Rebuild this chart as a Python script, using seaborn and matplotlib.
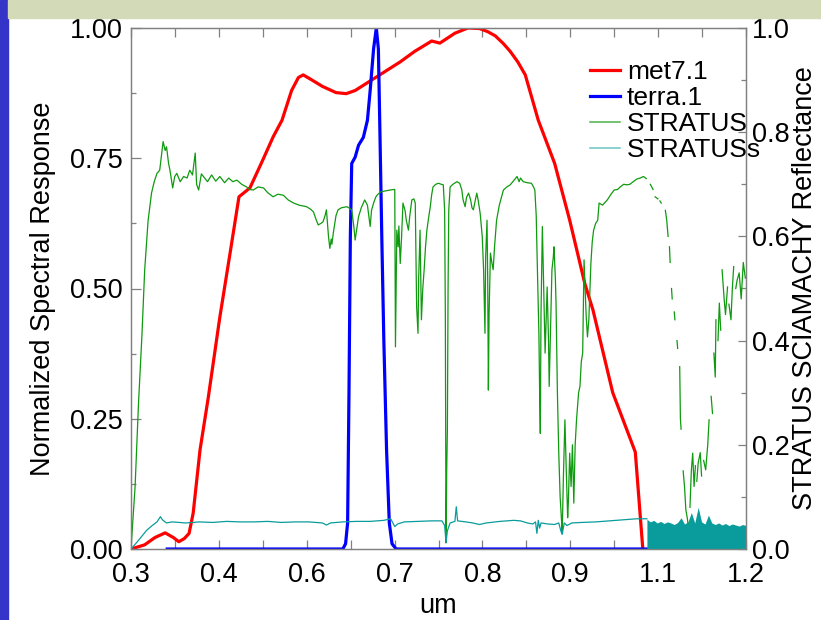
import numpy as np
import matplotlib
matplotlib.use("Agg")
import matplotlib.pyplot as plt
import seaborn as sns
from matplotlib.lines import Line2D
from matplotlib.patches import Rectangle
from matplotlib.ticker import FixedLocator, MultipleLocator

plt.rcParams["font.family"] = ["Liberation Sans", "DejaVu Sans"]

# met7.1 spectral response
met_x = [0.300, 0.320, 0.335, 0.350, 0.362, 0.370, 0.378, 0.385, 0.391, 0.401,
         0.413, 0.430, 0.445, 0.458, 0.474, 0.493, 0.508, 0.521, 0.535, 0.545,
         0.552, 0.565, 0.580, 0.600, 0.615, 0.628, 0.640, 0.664, 0.694, 0.715,
         0.730, 0.740, 0.752, 0.774, 0.793, 0.810, 0.822, 0.833, 0.845, 0.855,
         0.866, 0.877, 0.896, 0.920, 0.942, 0.964, 0.976, 1.005, 1.038, 1.049]
met_y = [0.000, 0.008, 0.022, 0.031, 0.022, 0.014, 0.020, 0.030, 0.069, 0.190,
         0.290, 0.445, 0.568, 0.676, 0.693, 0.747, 0.791, 0.823, 0.880, 0.905,
         0.910, 0.900, 0.888, 0.876, 0.874, 0.880, 0.890, 0.910, 0.935, 0.955,
         0.967, 0.975, 0.971, 0.990, 1.000, 0.999, 0.993, 0.985, 0.970, 0.955,
         0.935, 0.910, 0.823, 0.740, 0.631, 0.510, 0.459, 0.300, 0.186, 0.000]

# terra.1 spectral response
terra_x = [0.353, 0.610, 0.614, 0.617, 0.619, 0.621, 0.623, 0.628, 0.633, 0.640,
           0.646, 0.650, 0.655, 0.659, 0.662, 0.664, 0.667, 0.670, 0.674, 0.678,
           0.682, 0.688, 1.099]
terra_y = [0.000, 0.000, 0.010, 0.050, 0.300, 0.600, 0.740, 0.752, 0.775, 0.790,
           0.823, 0.880, 0.960, 1.000, 0.960, 0.820, 0.600, 0.400, 0.190, 0.050,
           0.010, 0.000, 0.000]

# STRATUS reflectance (continuous part)
strat_x = [0.300, 0.306, 0.311, 0.316, 0.320, 0.325, 0.330, 0.334, 0.338, 0.342,
           0.345, 0.347, 0.350, 0.352, 0.355, 0.357, 0.361, 0.364, 0.367, 0.372,
           0.377, 0.382, 0.386, 0.390, 0.394, 0.396, 0.399, 0.403, 0.406, 0.412,
           0.418, 0.424, 0.430, 0.437, 0.443, 0.449, 0.455, 0.462, 0.469, 0.474,
           0.479, 0.486, 0.494, 0.500, 0.508, 0.515, 0.523, 0.530, 0.538, 0.546,
           0.557, 0.563, 0.567, 0.571, 0.574, 0.578, 0.581, 0.584, 0.586, 0.589,
           0.591, 0.593, 0.594, 0.596, 0.600, 0.603, 0.608, 0.616, 0.620, 0.623,
           0.626, 0.628, 0.631, 0.633, 0.637, 0.642, 0.646, 0.648, 0.650, 0.652,
           0.655, 0.658, 0.660, 0.664, 0.667, 0.675, 0.684, 0.686, 0.687, 0.689,
           0.691, 0.692, 0.694, 0.696, 0.698, 0.701, 0.703, 0.706, 0.708, 0.711,
           0.714, 0.716, 0.718, 0.720, 0.721, 0.723, 0.725, 0.727, 0.729, 0.731,
           0.733, 0.736, 0.738, 0.740, 0.742, 0.746, 0.750, 0.754, 0.757, 0.759,
           0.760, 0.761, 0.762, 0.763, 0.764, 0.765, 0.767, 0.771, 0.777, 0.781,
           0.784, 0.786, 0.789, 0.791, 0.794, 0.797, 0.799, 0.801, 0.804, 0.806,
           0.808, 0.811, 0.814, 0.816, 0.818, 0.819, 0.821, 0.822, 0.823, 0.824,
           0.826, 0.828, 0.830, 0.832, 0.835, 0.839, 0.845, 0.850, 0.855, 0.860,
           0.865, 0.868, 0.870, 0.874, 0.880, 0.886, 0.889, 0.891, 0.893, 0.894,
           0.896, 0.897, 0.898, 0.899, 0.900, 0.902, 0.904, 0.906, 0.908, 0.909,
           0.911, 0.912, 0.914, 0.916, 0.918, 0.919, 0.921, 0.922, 0.924, 0.926,
           0.928, 0.930, 0.931, 0.933, 0.935, 0.937, 0.939, 0.940, 0.942, 0.944,
           0.946, 0.948, 0.950, 0.952, 0.955, 0.957, 0.959, 0.961, 0.963, 0.966,
           0.968, 0.970, 0.973, 0.975, 0.977, 0.980, 0.983, 0.985, 0.990, 0.997,
           1.002, 1.007, 1.012, 1.016, 1.021, 1.026, 1.030, 1.035, 1.040, 1.045,
           1.050, 1.054]
strat_y = [0.000, 0.120, 0.280, 0.410, 0.535, 0.630, 0.683, 0.705, 0.721, 0.727,
           0.760, 0.782, 0.765, 0.772, 0.740, 0.727, 0.693, 0.715, 0.721, 0.705,
           0.715, 0.712, 0.727, 0.718, 0.760, 0.700, 0.689, 0.720, 0.715, 0.705,
           0.718, 0.706, 0.715, 0.703, 0.712, 0.705, 0.708, 0.700, 0.695, 0.690,
           0.689, 0.695, 0.693, 0.684, 0.676, 0.681, 0.679, 0.670, 0.664, 0.660,
           0.657, 0.652, 0.647, 0.632, 0.622, 0.625, 0.628, 0.640, 0.651, 0.600,
           0.577, 0.595, 0.585, 0.606, 0.640, 0.651, 0.655, 0.657, 0.654, 0.651,
           0.620, 0.593, 0.620, 0.638, 0.655, 0.670, 0.660, 0.640, 0.619, 0.650,
           0.664, 0.675, 0.679, 0.684, 0.686, 0.688, 0.690, 0.690, 0.388, 0.612,
           0.580, 0.620, 0.548, 0.600, 0.664, 0.650, 0.630, 0.612, 0.640, 0.670,
           0.672, 0.664, 0.465, 0.414, 0.520, 0.612, 0.440, 0.500, 0.536, 0.580,
           0.612, 0.640, 0.657, 0.680, 0.695, 0.700, 0.702, 0.700, 0.699, 0.650,
           0.452, 0.012, 0.150, 0.228, 0.500, 0.650, 0.695, 0.700, 0.705, 0.702,
           0.690, 0.670, 0.657, 0.675, 0.683, 0.670, 0.655, 0.651, 0.670, 0.683,
           0.670, 0.644, 0.600, 0.536, 0.414, 0.560, 0.631, 0.520, 0.305, 0.450,
           0.568, 0.550, 0.536, 0.580, 0.631, 0.660, 0.689, 0.695, 0.699, 0.707,
           0.715, 0.705, 0.712, 0.705, 0.703, 0.702, 0.695, 0.689, 0.640, 0.580,
           0.470, 0.407, 0.300, 0.222, 0.450, 0.619, 0.500, 0.376, 0.460, 0.503,
           0.400, 0.312, 0.420, 0.536, 0.560, 0.580, 0.520, 0.472, 0.300, 0.184,
           0.100, 0.056, 0.030, 0.150, 0.248, 0.150, 0.060, 0.088, 0.184, 0.120,
           0.200, 0.088, 0.200, 0.248, 0.300, 0.312, 0.360, 0.376, 0.555, 0.450,
           0.407, 0.440, 0.548, 0.590, 0.612, 0.625, 0.631, 0.664, 0.660, 0.670,
           0.680, 0.689, 0.690, 0.695, 0.700, 0.699, 0.700, 0.705, 0.710, 0.712,
           0.715, 0.711]

# STRATUS reflectance beyond 1.05 um: broken pieces (segment id, x, y)
gap_seg = [1, 1, 2, 2, 3, 3, 4, 4, 4, 5, 5, 6, 6, 7, 7, 8, 8, 9, 9, 9,
           10, 10, 10, 10, 10, 11, 11, 11, 11, 11, 12, 12, 12, 12, 13, 13, 13, 13,
           14, 14, 15, 15, 15, 16, 16, 16, 17, 17, 17, 17, 18, 18, 18, 18,
           19, 19, 19, 19, 19, 19]
gap_x = [1.060, 1.064, 1.067, 1.071, 1.074, 1.076, 1.082, 1.084, 1.086, 1.088,
         1.089, 1.091, 1.092, 1.095, 1.096, 1.099, 1.100, 1.103, 1.104, 1.105,
         1.108, 1.110, 1.112, 1.114, 1.115, 1.118, 1.120, 1.122, 1.124, 1.126,
         1.128, 1.130, 1.133, 1.135, 1.138, 1.141, 1.144, 1.146, 1.149, 1.151,
         1.153, 1.155, 1.156, 1.159, 1.161, 1.163, 1.165, 1.168, 1.170, 1.173,
         1.175, 1.178, 1.180, 1.182, 1.185, 1.187, 1.190, 1.193, 1.196, 1.199]
gap_y = [0.700, 0.690, 0.676, 0.672, 0.668, 0.664, 0.650, 0.631, 0.600, 0.580,
         0.550, 0.500, 0.480, 0.455, 0.440, 0.400, 0.385, 0.350, 0.250, 0.230,
         0.150, 0.120, 0.075, 0.060, 0.050, 0.080, 0.150, 0.184, 0.120, 0.160,
         0.130, 0.165, 0.185, 0.140, 0.170, 0.152, 0.200, 0.248, 0.293, 0.260,
         0.376, 0.330, 0.440, 0.400, 0.472, 0.420, 0.536, 0.480, 0.450, 0.503,
         0.470, 0.440, 0.500, 0.542, 0.500, 0.516, 0.530, 0.480, 0.550, 0.520]

# STRATUSs reflectance
strats_x = [0.300, 0.310, 0.318, 0.323, 0.330, 0.338, 0.343, 0.346, 0.352, 0.360,
            0.380, 0.400, 0.420, 0.440, 0.460, 0.480, 0.500, 0.520, 0.540, 0.560,
            0.580, 0.586, 0.592, 0.610, 0.630, 0.650, 0.670, 0.680, 0.686, 0.690,
            0.700, 0.720, 0.740, 0.755, 0.759, 0.761, 0.763, 0.767, 0.774, 0.776,
            0.778, 0.790, 0.800, 0.810, 0.820, 0.840, 0.860, 0.870, 0.880, 0.888,
            0.892, 0.894, 0.896, 0.898, 0.900, 0.910, 0.920, 0.926, 0.929, 0.931,
            0.934, 0.938, 0.945, 0.960, 0.980, 1.000, 1.020, 1.040, 1.055]
strats_y = [0.000, 0.015, 0.028, 0.036, 0.044, 0.052, 0.062, 0.056, 0.050, 0.052,
            0.050, 0.052, 0.051, 0.053, 0.052, 0.052, 0.053, 0.051, 0.052, 0.052,
            0.050, 0.046, 0.050, 0.052, 0.053, 0.053, 0.055, 0.058, 0.043, 0.048,
            0.052, 0.053, 0.054, 0.054, 0.045, 0.012, 0.035, 0.050, 0.053, 0.081,
            0.054, 0.052, 0.050, 0.047, 0.050, 0.053, 0.055, 0.054, 0.050, 0.048,
            0.052, 0.030, 0.055, 0.040, 0.050, 0.048, 0.047, 0.050, 0.035, 0.028,
            0.050, 0.045, 0.050, 0.051, 0.052, 0.054, 0.056, 0.058, 0.058]

# STRATUSs noisy band beyond 1.05 um (upper envelope)
noise_x = [1.055, 1.060, 1.065, 1.070, 1.075, 1.080, 1.085, 1.090, 1.095, 1.100,
           1.105, 1.110, 1.115, 1.120, 1.125, 1.130, 1.135, 1.140, 1.145, 1.150,
           1.155, 1.160, 1.165, 1.170, 1.175, 1.180, 1.185, 1.190, 1.195, 1.200]
noise_top = [0.057, 0.052, 0.055, 0.050, 0.053, 0.049, 0.052, 0.050, 0.047, 0.051,
             0.060, 0.048, 0.052, 0.070, 0.050, 0.080, 0.052, 0.048, 0.065, 0.050,
             0.047, 0.050, 0.046, 0.049, 0.045, 0.048, 0.046, 0.044, 0.047, 0.045]

x_ticks = np.linspace(0.3, 1.2, 8)

RED, BLUE, GREEN, TEAL = "#ff0000", "#0000ff", "#0f9a0f", "#0a9c9c"
GRAY = "#808080"

fig = plt.figure(figsize=(8.21, 6.2), dpi=100)
fig.patches.append(Rectangle((0, 0), 8 / 821, 1, transform=fig.transFigure,
                             color="#3434c8", zorder=0))
fig.patches.append(Rectangle((8 / 821, 1 - 18 / 620), 1, 18 / 620,
                             transform=fig.transFigure, color="#d3dab8", zorder=0))

ax = fig.add_axes([131 / 821, 1 - 549 / 620, 615 / 821, 521 / 620])
ax2 = ax.twinx()

sns.lineplot(x=met_x, y=met_y, ax=ax, color=RED, lw=2.3, estimator=None, sort=False)
sns.lineplot(x=terra_x, y=terra_y, ax=ax, color=BLUE, lw=2.3, estimator=None, sort=False)
sns.lineplot(x=strat_x, y=strat_y, ax=ax2, color=GREEN, lw=0.9, estimator=None, sort=False)
sns.lineplot(x=gap_x, y=gap_y, units=gap_seg, ax=ax2, color=GREEN, lw=0.9,
             estimator=None, sort=False)
sns.lineplot(x=strats_x, y=strats_y, ax=ax2, color=TEAL, lw=0.9, estimator=None, sort=False)
ax2.fill_between(noise_x, 0, noise_top, color=TEAL, lw=0)

for a in (ax, ax2):
    a.set_xlim(0.3, 1.2)
    a.set_ylim(0, 1)
    for s in a.spines.values():
        s.set_color(GRAY)
        s.set_linewidth(0.9)

ax.xaxis.set_major_locator(FixedLocator(x_ticks))
ax.xaxis.set_minor_locator(FixedLocator((x_ticks[:-1] + x_ticks[1:]) / 2))
ax.set_xticklabels([f"{v:.1f}" for v in x_ticks])
ax.yaxis.set_major_locator(MultipleLocator(0.25))
ax.yaxis.set_minor_locator(MultipleLocator(0.125))
ax.yaxis.set_major_formatter("{x:.2f}")
ax2.yaxis.set_major_locator(MultipleLocator(0.2))
ax2.yaxis.set_minor_locator(MultipleLocator(0.1))
ax2.yaxis.set_major_formatter("{x:.1f}")

ax.tick_params(axis="x", which="both", direction="in", top=True, bottom=True,
               length=6.5, width=0.9, color=GRAY, labelsize=19.5, pad=9)
ax.tick_params(axis="y", which="major", direction="in", right=False,
               length=7, width=0.9, color=GRAY, labelsize=19.5, pad=6)
ax.tick_params(axis="y", which="minor", direction="in", right=False,
               length=3.5, width=0.9, color=GRAY)
ax2.tick_params(axis="y", which="major", direction="in", length=6, width=0.9,
                color=GRAY, labelsize=19.5, pad=4)
ax2.tick_params(axis="y", which="minor", direction="in", length=3.5, width=0.9,
                color=GRAY)

ax.set_xlabel("um", fontsize=19.5, labelpad=4)
ax.set_ylabel("Normalized Spectral Response", fontsize=19.5, labelpad=10)
ax2.set_ylabel("STRATUS SCIAMACHY Reflectance", fontsize=19.5, labelpad=2)

handles = [Line2D([], [], color=RED, lw=2.3), Line2D([], [], color=BLUE, lw=2.3),
           Line2D([], [], color=GREEN, lw=1.1, alpha=0.75),
           Line2D([], [], color=TEAL, lw=1.1, alpha=0.6)]
fig.legend(handles, ["met7.1", "terra.1", "STRATUS", "STRATUSs"],
           loc="upper left", bbox_to_anchor=(590 / 821, 1 - 60 / 620),
           bbox_transform=fig.transFigure, frameon=False, fontsize=19,
           borderpad=0, borderaxespad=0, handlelength=1.15, handletextpad=0.25,
           labelspacing=0.08)

fig.savefig("out.png", dpi=100)
